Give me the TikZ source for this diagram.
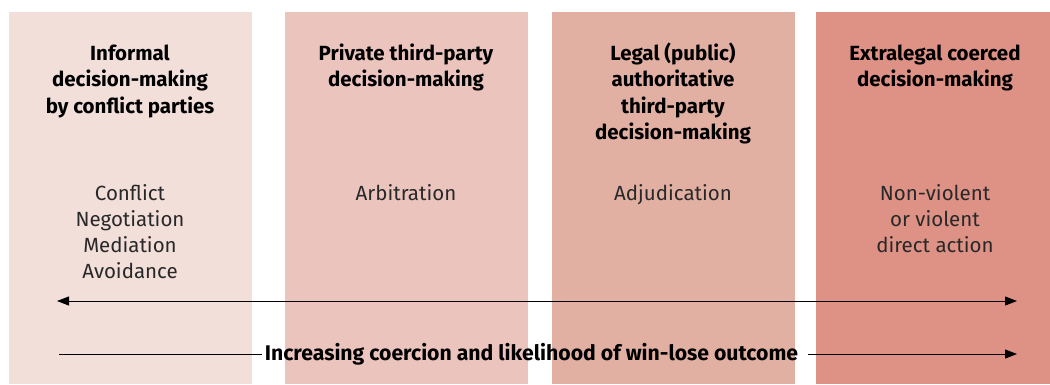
\documentclass[tikz,border=0pt]{standalone}
\usepackage{fontspec}
\setmainfont{Fira Sans}
\usetikzlibrary{arrows.meta}
\definecolor{cA}{RGB}{242,223,218}
\definecolor{cB}{RGB}{235,196,190}
\definecolor{cC}{RGB}{226,176,163}
\definecolor{cD}{RGB}{222,145,133}
\definecolor{bodytext}{RGB}{40,40,40}
\tikzset{
  colbox/.style={draw=none, inner sep=0pt, outer sep=0pt, anchor=north west},
  title/.style={font=\fontsize{20.5bp}{26.5bp}\selectfont\bfseries, align=center, anchor=base, inner sep=0pt, text=black},
  body/.style={font=\fontsize{20.5bp}{26bp}\selectfont, align=center, anchor=base, inner sep=0pt, text=bodytext},
  axislabel/.style={font=\fontsize{21.2bp}{26bp}\selectfont\bfseries, anchor=center, inner sep=0pt, text=black},
  arr/.style={line width=0.9bp, -{Triangle[length=12bp,width=9bp]}},
  darr/.style={line width=0.9bp, {Triangle[length=12bp,width=9bp]}-{Triangle[length=12bp,width=9bp]}},
  plain/.style={line width=0.9bp}
}
\begin{document}
\begin{tikzpicture}[x=1bp,y=-1bp]
\useasboundingbox (0,0) rectangle (1050,384);
% columns
\node[colbox, fill=cA, minimum width=243bp, minimum height=372bp] (c1) at (9,12) {};
\node[colbox, fill=cB, minimum width=243bp, minimum height=372bp] (c2) at (285,12) {};
\node[colbox, fill=cC, minimum width=243bp, minimum height=372bp] (c3) at (552,12) {};
\node[colbox, fill=cD, minimum width=234bp, minimum height=372bp] (c4) at (816,12) {};
% titles (anchor = baseline of last line)
\node[title] (t1) at (130,113) {Informal\\decision-making\\by conflict parties};
\node[title] (t2) at (406,86.5) {Private third-party\\decision-making};
\node[title] (t3) at (673,139.5) {Legal (public)\\authoritative\\third-party\\decision-making};
\node[title] (t4) at (935,86.5) {Extralegal coerced\\decision-making};
% bodies
\node[body] (b1) at (130,278.5) {Conflict\\Negotiation\\Mediation\\Avoidance};
\node[body] (b2) at (406,200.5) {Arbitration};
\node[body] (b3) at (673,200.5) {Adjudication};
\node[body] (b4) at (935,252.5) {Non-violent\\or violent\\direct action};
% arrows
\coordinate (dl) at (57,301);
\coordinate (dr) at (1017,301);
\draw[darr] (dl) -- (dr);
\node[axislabel] (lab) at (531.5,354) {Increasing coercion and likelihood of win-lose outcome};
\coordinate (al) at (59,354);
\coordinate (ar) at (1017,354);
\draw[plain] (al) -- ([xshift=-3bp]lab.west |- al);
\draw[arr] ([xshift=10bp]lab.east |- ar) -- (ar);
\end{tikzpicture}
\end{document}
